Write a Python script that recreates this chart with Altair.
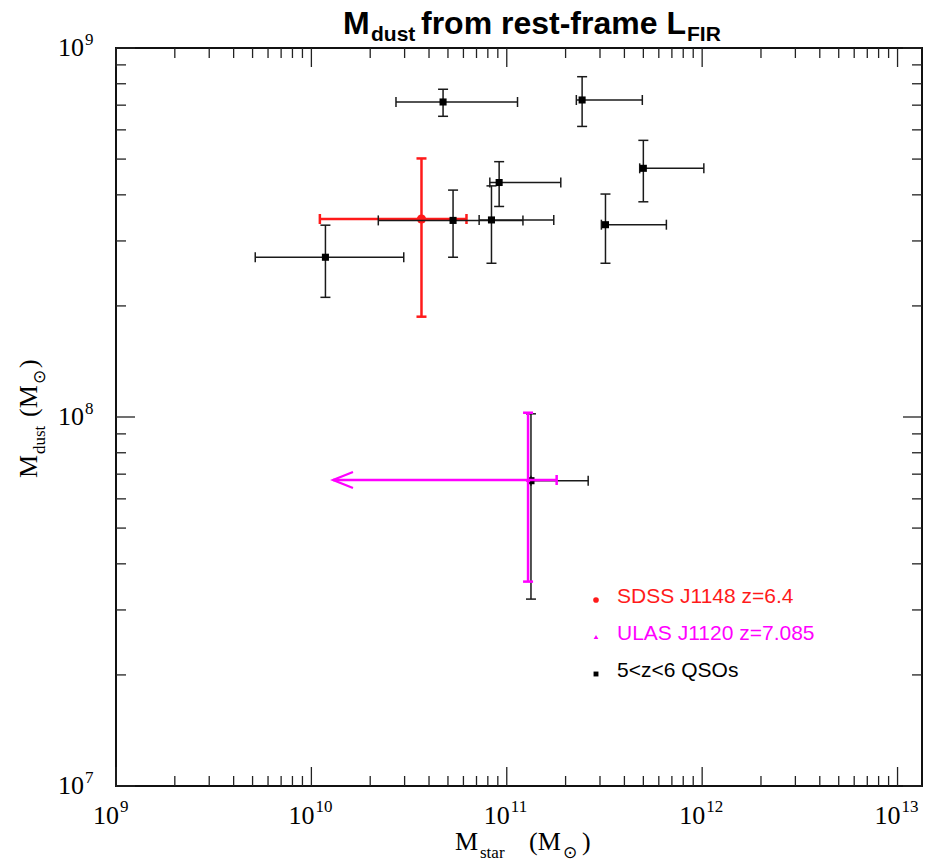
import altair as alt
import pandas as pd

# ---------------- data ----------------
# 5<z<6 QSOs
qso_x   = [4.72e10, 2.43e11, 5.00e11, 9.14e10, 5.31e10, 8.35e10, 3.20e11, 1.18e10, 1.33e11]
qso_xlo = [2.71e10, 2.27e11, 4.79e11, 8.19e10, 2.20e10, 7.22e10, 3.05e11, 5.16e9, 1.33e11]
qso_xhi = [1.135e11, 4.94e11, 1.02e12, 1.89e11, 1.21e11, 1.74e11, 6.56e11, 2.97e10, 2.61e11]
qso_y   = [7.14e8, 7.23e8, 4.72e8, 4.32e8, 3.41e8, 3.42e8, 3.32e8, 2.71e8, 6.72e7]
qso_ylo = [6.53e8, 6.13e8, 3.83e8, 3.72e8, 2.71e8, 2.61e8, 2.61e8, 2.11e8, 3.21e7]
qso_yhi = [7.73e8, 8.36e8, 5.62e8, 4.92e8, 4.12e8, 4.23e8, 4.02e8, 3.31e8, 1.02e8]

# SDSS J1148 z=6.4
sdss_x, sdss_xlo, sdss_xhi = [3.66e10], [1.105e10], [6.22e10]
sdss_y, sdss_ylo, sdss_yhi = [3.44e8], [1.87e8], [5.02e8]

# ULAS J1120 z=7.085 (upper limit on M_star -> arrow)
ulas_x, ulas_xlo, ulas_xhi = [1.285e11], [1.29e10], [1.80e11]
ulas_y, ulas_ylo, ulas_yhi = [6.75e7], [3.58e7], [1.027e8]

legend_labels = ["SDSS J1148 z=6.4", "ULAS J1120 z=7.085", "5<z<6 QSOs"]
legend_colors = ["#ff1a1a", "#ff00ff", "#000000"]

title_parts = ["M", "dust", "from rest-frame L", "FIR"]

x_exps = [9, 10, 11, 12, 13]
y_exps = [7, 8, 9]

# ---------------- layout ----------------
W, H = 806, 738
XDOM = [1e9, 1.334e13]
YDOM = [1e7, 1e9]
xs = alt.Scale(type="log", domain=XDOM, nice=False)
ys = alt.Scale(type="log", domain=YDOM, nice=False)

SERIF = "Liberation Serif"
SANS = "Liberation Sans"
TICK = "#222222"


def X(f):
    return alt.X(f, type="quantitative", scale=xs, axis=None)


def Y(f):
    return alt.Y(f, type="quantitative", scale=ys, axis=None)


x_major = [10.0 ** e for e in x_exps]
x_minor = [k * 10.0 ** e for e in x_exps[:-1] for k in range(2, 10)]
y_major = [10.0 ** e for e in y_exps]
y_minor = [k * 10.0 ** e for e in y_exps[:-1] for k in range(2, 10)]

xmaj_df = pd.DataFrame({"v": x_major, "e": [str(e) for e in x_exps]})
xmin_df = pd.DataFrame({"v": x_minor})
ymaj_df = pd.DataFrame({"v": y_major, "e": [str(e) for e in y_exps]})
ymin_df = pd.DataFrame({"v": y_minor})

MAJ, MIN = 19, 10

layers = []
# inward ticks on all four sides
layers.append(alt.Chart(xmaj_df).mark_rule(color=TICK, strokeWidth=1.3).encode(
    x=X("v"), y=alt.value(H), y2=alt.value(H - MAJ)))
layers.append(alt.Chart(xmaj_df).mark_rule(color=TICK, strokeWidth=1.3).encode(
    x=X("v"), y=alt.value(0), y2=alt.value(MAJ)))
layers.append(alt.Chart(xmin_df).mark_rule(color=TICK, strokeWidth=1.3).encode(
    x=X("v"), y=alt.value(H), y2=alt.value(H - MIN)))
layers.append(alt.Chart(xmin_df).mark_rule(color=TICK, strokeWidth=1.3).encode(
    x=X("v"), y=alt.value(0), y2=alt.value(MIN)))
layers.append(alt.Chart(ymaj_df).mark_rule(color=TICK, strokeWidth=1.3).encode(
    y=Y("v"), x=alt.value(0), x2=alt.value(MAJ)))
layers.append(alt.Chart(ymaj_df).mark_rule(color=TICK, strokeWidth=1.3).encode(
    y=Y("v"), x=alt.value(W), x2=alt.value(W - MAJ)))
layers.append(alt.Chart(ymin_df).mark_rule(color=TICK, strokeWidth=1.3).encode(
    y=Y("v"), x=alt.value(0), x2=alt.value(MIN)))
layers.append(alt.Chart(ymin_df).mark_rule(color=TICK, strokeWidth=1.3).encode(
    y=Y("v"), x=alt.value(W), x2=alt.value(W - MIN)))

# tick labels 10^n : base "10" + raised exponent
layers.append(alt.Chart(xmaj_df).mark_text(text="10", align="right", baseline="alphabetic", dx=3,
                                           font=SERIF, fontSize=26, color="black").encode(
    x=X("v"), y=alt.value(H + 38)))
layers.append(alt.Chart(xmaj_df).mark_text(align="left", baseline="alphabetic", dx=4,
                                           font=SERIF, fontSize=17, color="black").encode(
    x=X("v"), y=alt.value(H + 26), text="e:N"))
layers.append(alt.Chart(ymaj_df).mark_text(text="10", align="right", baseline="middle",
                                           font=SERIF, fontSize=26, color="black").encode(
    y=Y("v"), x=alt.value(-32)))
layers.append(alt.Chart(ymaj_df).mark_text(align="left", baseline="alphabetic", dy=-3,
                                           font=SERIF, fontSize=17, color="black").encode(
    y=Y("v"), x=alt.value(-31), text="e:N"))


def err_layers(df, color, sw, cap=10, left_cap=True):
    out = []
    out.append(alt.Chart(df).mark_rule(color=color, strokeWidth=sw).encode(
        x=X("xlo"), x2="xhi", y=Y("y")))
    out.append(alt.Chart(df).mark_rule(color=color, strokeWidth=sw).encode(
        x=X("x"), y=Y("ylo"), y2="yhi"))
    ends = ["xhi"] + (["xlo"] if left_cap else [])
    for f in ends:
        out.append(alt.Chart(df).mark_tick(orient="vertical", size=cap, thickness=sw,
                                           color=color, opacity=1).encode(x=X(f), y=Y("y")))
    for f in ["ylo", "yhi"]:
        out.append(alt.Chart(df).mark_tick(orient="horizontal", size=cap, thickness=sw,
                                           color=color, opacity=1).encode(x=X("x"), y=Y(f)))
    return out


def mk(x, xlo, xhi, y, ylo, yhi):
    return pd.DataFrame({"x": x, "xlo": xlo, "xhi": xhi, "y": y, "ylo": ylo, "yhi": yhi})


sdss = mk(sdss_x, sdss_xlo, sdss_xhi, sdss_y, sdss_ylo, sdss_yhi)
qso = mk(qso_x, qso_xlo, qso_xhi, qso_y, qso_ylo, qso_yhi)
ulas = mk(ulas_x, ulas_xlo, ulas_xhi, ulas_y, ulas_ylo, ulas_yhi)

# SDSS (red)
layers += err_layers(sdss, legend_colors[0], 2.5)
layers.append(alt.Chart(sdss).mark_point(shape="circle", filled=True, size=85, opacity=1,
                                         color=legend_colors[0]).encode(x=X("x"), y=Y("y")))
# QSOs (black)
layers += err_layers(qso, "#1a1a1a", 1.5)
layers.append(alt.Chart(qso).mark_point(shape="square", filled=True, size=50, opacity=1,
                                        color="black").encode(x=X("x"), y=Y("y")))
# ULAS (magenta) with arrow
layers += err_layers(ulas, legend_colors[1], 2.5, left_cap=False)
layers.append(alt.Chart(ulas).mark_point(shape="M2,-0.8L0,0L2,0.8", filled=False, size=400,
                                         opacity=1, stroke=legend_colors[1], strokeWidth=2.2,
                                         color=legend_colors[1]).encode(x=X("xlo"), y=Y("y")))
layers.append(alt.Chart(ulas).mark_point(shape="triangle-up", filled=True, size=20, opacity=1,
                                         color=legend_colors[1]).encode(x=X("x"), y=Y("y")))

# legend
one = pd.DataFrame({"k": [0]})
leg_y = [555, 592, 629]
leg_shapes = [("circle", 32), ("triangle-up", 22), ("square", 24)]
for i in range(3):
    shp, sz = leg_shapes[i]
    layers.append(alt.Chart(one).mark_point(shape=shp, filled=True, size=sz, opacity=1,
                                            color=legend_colors[i]).encode(
        x=alt.value(480), y=alt.value(leg_y[i] - 3)))
    layers.append(alt.Chart(one).mark_text(text=legend_labels[i], align="left",
                                           baseline="alphabetic", font=SANS, fontSize=21,
                                           color=legend_colors[i]).encode(
        x=alt.value(501), y=alt.value(leg_y[i])))


def txt(s, x, y, size, font, weight="normal", angle=0):
    kw = dict(text=s, align="left", baseline="alphabetic", font=font, fontSize=size,
              fontWeight=weight, color="black")
    if angle:
        kw["angle"] = angle
    return alt.Chart(one).mark_text(**kw).encode(x=alt.value(x), y=alt.value(y))


# title
layers.append(txt(title_parts[0], 227, -14, 32, SANS, "bold"))
layers.append(txt(title_parts[1], 255, -7, 21, SANS, "bold"))
layers.append(txt(title_parts[2], 305, -14, 32, SANS, "bold"))
layers.append(txt(title_parts[3], 571, -7, 21, SANS, "bold"))

# x axis title: M_star (M_sun)
layers.append(txt("M", 339, 802, 26, SERIF))
layers.append(txt("star", 364, 810, 17, SERIF))
layers.append(txt("(M", 413, 802, 26, SERIF))
layers.append(txt("\u2299", 447, 810, 17, "DejaVu Sans"))
layers.append(txt(")", 466, 802, 26, SERIF))

# y axis title: M_dust (M_sun), rotated
layers.append(txt("M", -79, 430, 26, SERIF, angle=270))
layers.append(txt("dust", -71, 406, 17, SERIF, angle=270))
layers.append(txt("(M", -79, 369, 26, SERIF, angle=270))
layers.append(txt("\u2299", -71, 336, 17, "DejaVu Sans", angle=270))
layers.append(txt(")", -79, 320, 26, SERIF, angle=270))

chart = alt.layer(*layers).properties(
    width=W, height=H,
    autosize=alt.AutoSizeParams(type="none"),
    padding={"left": 116, "top": 48, "right": 5, "bottom": 79},
    background="white",
).configure_view(stroke="#111111", strokeWidth=2)

chart.save("out.html", embed_options={"renderer": "svg", "actions": False})
